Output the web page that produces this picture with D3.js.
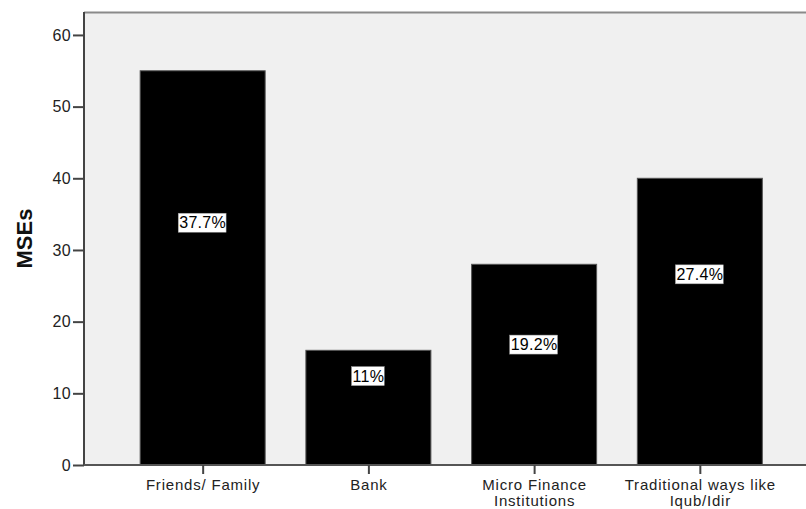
<!DOCTYPE html>
<html><head><meta charset="utf-8">
<script src="https://cdn.jsdelivr.net/npm/d3@7"></script>
<style>body{margin:0;background:#fff}svg{display:block}text{font-family:"Liberation Sans",Arial,sans-serif}</style>
</head><body>
<script>
const categories = [["Friends/ Family"], ["Bank"], ["Micro Finance", "Institutions"], ["Traditional ways like", "Iqub/Idir"]];
const counts = [55, 16, 28, 40];
const percentLabels = ["37.7%", "11%", "19.2%", "27.4%"];
const labelAnchor = [33.8, 12.4, 16.8, 26.6];
const yTicks = [0, 10, 20, 30, 40, 50, 60];
const yTitle = "MSEs";

const W = 806, H = 509;
const pL = 84, pR = 818.5, pT = 12, pB = 465;
const svg = d3.select("body").append("svg").attr("width", W).attr("height", H);

const x = d3.scalePoint().domain(d3.range(categories.length)).range([pL, pR]).padding(0.716);
const y = d3.scaleLinear().domain([0, 63.2]).range([pB, pT]);
const bw = 125;

svg.append("rect").attr("x", pL).attr("y", pT).attr("width", pR - pL).attr("height", pB - pT).attr("fill", "#f0f0f0");
svg.append("line").attr("x1", pL).attr("x2", W).attr("y1", pT + 0.5).attr("y2", pT + 0.5).attr("stroke", "#8a8a8a").attr("stroke-width", 2);

svg.selectAll("rect.bar").data(counts).join("rect").attr("class", "bar")
  .attr("x", (d, i) => x(i) - bw / 2).attr("width", bw)
  .attr("y", d => y(d)).attr("height", d => pB - y(d))
  .attr("fill", "#000").attr("stroke", "#555").attr("stroke-width", 1);

// percent labels
const lab = svg.selectAll("g.lab").data(percentLabels).join("g").attr("class", "lab")
  .attr("transform", (d, i) => `translate(${x(i)},${y(labelAnchor[i])})`);
lab.append("text").text(d => d).attr("text-anchor", "middle").attr("dy", "0.36em")
  .attr("font-size", 16).attr("letter-spacing", 0.3).attr("fill", "#000").each(function () {
    const b = this.getBBox();
    d3.select(this.parentNode).insert("rect", "text")
      .attr("x", b.x - 1).attr("y", -9.5).attr("width", b.width + 1).attr("height", 19)
      .attr("fill", "#fff").attr("stroke", "#999").attr("stroke-width", 0.5);
  });

// y axis
const ya = svg.append("g").attr("transform", `translate(${pL},0)`)
  .call(d3.axisLeft(y).tickValues(yTicks).tickSize(11).tickPadding(2).tickFormat(d3.format("d")));
ya.select(".domain").attr("stroke", "#444").attr("stroke-width", 2).attr("d", `M0,${pT}V${pB}`);
ya.selectAll(".tick line").attr("stroke", "#444").attr("stroke-width", 2);
ya.selectAll(".tick text").attr("font-size", 16).attr("letter-spacing", 0.3).attr("fill", "#222").attr("font-family", "Liberation Sans, Arial, sans-serif");

// x axis
const xa = svg.append("g").attr("transform", `translate(0,${pB})`)
  .call(d3.axisBottom(x).tickSize(9).tickFormat(""));
xa.select(".domain").attr("stroke", "#555").attr("stroke-width", 2).attr("d", `M${pL},0H${W}`);
xa.selectAll(".tick line").attr("stroke", "#444").attr("stroke-width", 2);
xa.selectAll(".tick").each(function (d) {
  const t = d3.select(this).append("text").attr("text-anchor", "middle").attr("font-size", 15)
    .attr("letter-spacing", 0.8).attr("fill", "#222");
  categories[d].forEach((s, k) => t.append("tspan").attr("x", 0).attr("y", 25 + k * 16).text(s));
});

svg.append("text").attr("transform", `translate(32,${(pT + pB) / 2}) rotate(-90)`)
  .attr("text-anchor", "middle").attr("font-size", 22).attr("font-weight", "bold").attr("fill", "#111").text(yTitle);
</script>
</body></html>
